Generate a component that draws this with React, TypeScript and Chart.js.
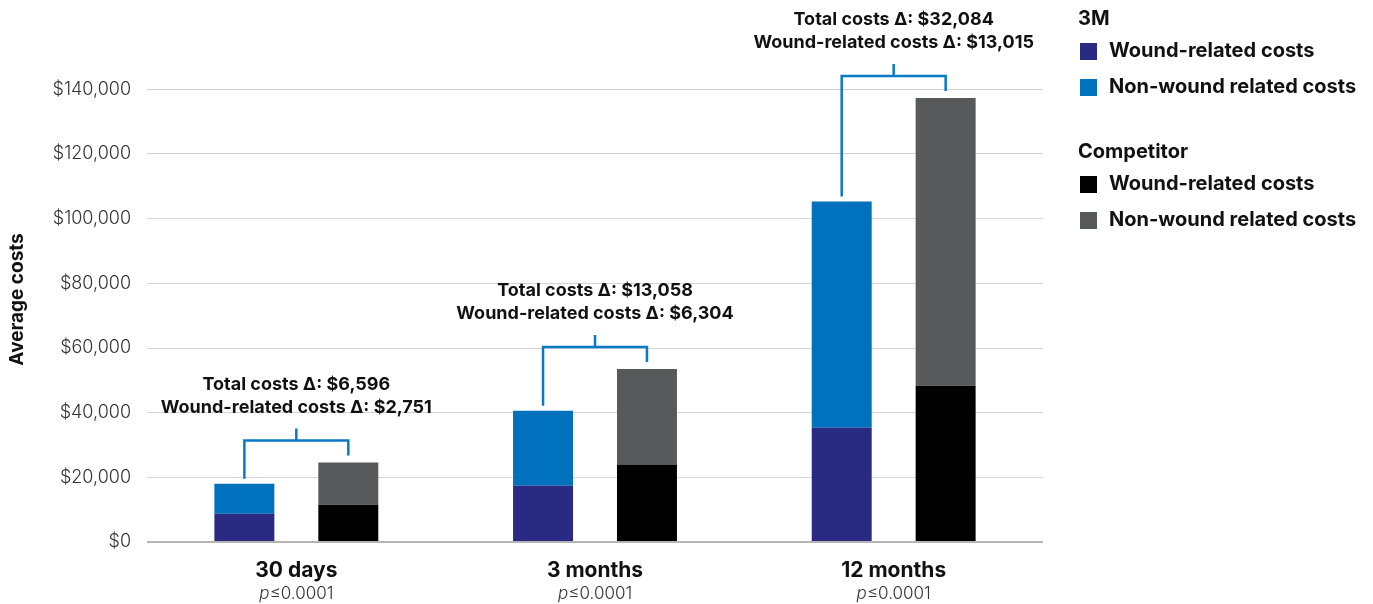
import React, { useEffect, useRef } from "react";
import { Chart, registerables } from "chart.js";

Chart.register(...registerables);

const categories = ["30 days", "3 months", "12 months"];
const pValues = ["≤0.0001", "≤0.0001", "≤0.0001"];
const threeMWound = [8700, 17400, 35300];
const threeMNonWound = [9300, 23200, 70000];
const compWound = [11500, 24000, 48300];
const compNonWound = [13100, 29500, 89000];
const totalDelta = ["$6,596", "$13,058", "$32,084"];
const woundDelta = ["$2,751", "$6,304", "$13,015"];
const yTicks = [0, 20000, 40000, 60000, 80000, 100000, 120000, 140000];

const COLORS = {
  mWound: "#2b2a82",
  mNon: "#0071bc",
  cWound: "#000000",
  cNon: "#58595b",
  bracket: "#0a79c6",
};

const FONT = "Inter, 'Open Sans', sans-serif";

const overlay = {
  id: "overlay",
  afterDatasetsDraw(chart: any) {
    const ctx = chart.ctx;
    const mTop = chart.getDatasetMeta(1).data;
    const cTop = chart.getDatasetMeta(3).data;
    ctx.save();
    categories.forEach((cat, i) => {
      const a = mTop[i];
      const b = cTop[i];
      const level = Math.min(a.y, b.y) - 22;
      const cx = (a.x + b.x) / 2;
      ctx.strokeStyle = COLORS.bracket;
      ctx.lineWidth = 2.5;
      ctx.lineCap = "butt";
      ctx.beginPath();
      ctx.moveTo(a.x, a.y - 5);
      ctx.lineTo(a.x, level);
      ctx.lineTo(b.x, level);
      ctx.lineTo(b.x, b.y - 7);
      ctx.moveTo(cx, level);
      ctx.lineTo(cx, level - 12);
      ctx.stroke();
      const tickTop = level - 12;
      ctx.fillStyle = "#111";
      ctx.font = `bold 18px ${FONT}`;
      ctx.textAlign = "center";
      ctx.textBaseline = "middle";
      ctx.fillText(`Total costs Δ: ${totalDelta[i]}`, cx, tickTop - 44);
      ctx.fillText(`Wound-related costs Δ: ${woundDelta[i]}`, cx, tickTop - 21);

      // x labels
      const xc = chart.scales.x.getPixelForValue(i);
      ctx.font = `bold 21px ${FONT}`;
      ctx.fillText(cat, xc, 571);
      ctx.font = `italic 17px ${FONT}`;
      const pw = ctx.measureText("p").width;
      ctx.font = `300 17px ${FONT}`;
      const rw = ctx.measureText(pValues[i]).width;
      const start = xc - (pw + rw) / 2;
      ctx.fillStyle = "#333";
      ctx.textAlign = "left";
      ctx.font = `italic 300 17px ${FONT}`;
      ctx.fillText("p", start, 594);
      ctx.font = `300 17px ${FONT}`;
      ctx.fillText(pValues[i], start + pw, 594);
    });

    // legend
    const groups = [
      { title: "3M", y: 18, items: [[COLORS.mWound, "Wound-related costs"], [COLORS.mNon, "Non-wound related costs"]] },
      { title: "Competitor", y: 151, items: [[COLORS.cWound, "Wound-related costs"], [COLORS.cNon, "Non-wound related costs"]] },
    ];
    ctx.textAlign = "left";
    ctx.textBaseline = "middle";
    groups.forEach((g) => {
      ctx.fillStyle = "#111";
      ctx.font = `bold 20px ${FONT}`;
      ctx.fillText(g.title, 1078, g.y + 1);
      g.items.forEach((it, k) => {
        const yy = g.y + 33 + k * 36;
        ctx.fillStyle = it[0];
        ctx.fillRect(1080, yy - 8, 17, 17);
        ctx.fillStyle = "#111";
        ctx.font = `bold 20px ${FONT}`;
        ctx.fillText(it[1], 1109, yy);
      });
    });
    ctx.restore();
  },
};

export default function App() {
  const ref = useRef<HTMLCanvasElement | null>(null);
  useEffect(() => {
    if (!ref.current) return;
    const chart = new Chart(ref.current, {
      type: "bar",
      data: {
        labels: categories,
        datasets: [
          { label: "3M Wound-related costs", data: threeMWound, backgroundColor: COLORS.mWound, stack: "3M" },
          { label: "3M Non-wound related costs", data: threeMNonWound, backgroundColor: COLORS.mNon, stack: "3M" },
          { label: "Competitor Wound-related costs", data: compWound, backgroundColor: COLORS.cWound, stack: "Comp" },
          { label: "Competitor Non-wound related costs", data: compNonWound, backgroundColor: COLORS.cNon, stack: "Comp" },
        ],
      },
      options: {
        animation: false,
        responsive: true,
        maintainAspectRatio: false,
        layout: { padding: { left: 0, right: 330, top: 57, bottom: 62 } },
        datasets: { bar: { categoryPercentage: 0.696, barPercentage: 0.577 } },
        plugins: { legend: { display: false }, tooltip: { enabled: false } },
        scales: {
          x: { stacked: true, display: false },
          y: {
            stacked: true,
            min: 0,
            max: 150000,
            afterBuildTicks: (s: any) => {
              s.ticks = yTicks.map((v) => ({ value: v }));
            },
            afterFit: (s: any) => {
              s.width = 147;
            },
            border: { display: false },
            grid: {
              drawTicks: false,
              color: (c: any) => (c.tick && c.tick.value === 0 ? "#b5b5b5" : "#d4d4d4"),
              lineWidth: (c: any) => (c.tick && c.tick.value === 0 ? 2 : 1),
            },
            ticks: {
              padding: 16,
              color: "#333",
              font: { family: FONT, size: 18, weight: "300" },
              callback: (v: any) => "$" + Number(v).toLocaleString("en-US"),
            },
            title: {
              display: true,
              text: "Average costs",
              color: "#111",
              font: { family: FONT, size: 19, weight: "bold" },
              padding: { top: 6, bottom: 0 },
            },
          },
        },
      },
      plugins: [overlay],
    });
    return () => chart.destroy();
  }, []);
  return (
    <div style={{ position: "fixed", left: 0, top: 0, width: 1373, height: 604, background: "#fff" }}>
      <canvas ref={ref} />
    </div>
  );
}
